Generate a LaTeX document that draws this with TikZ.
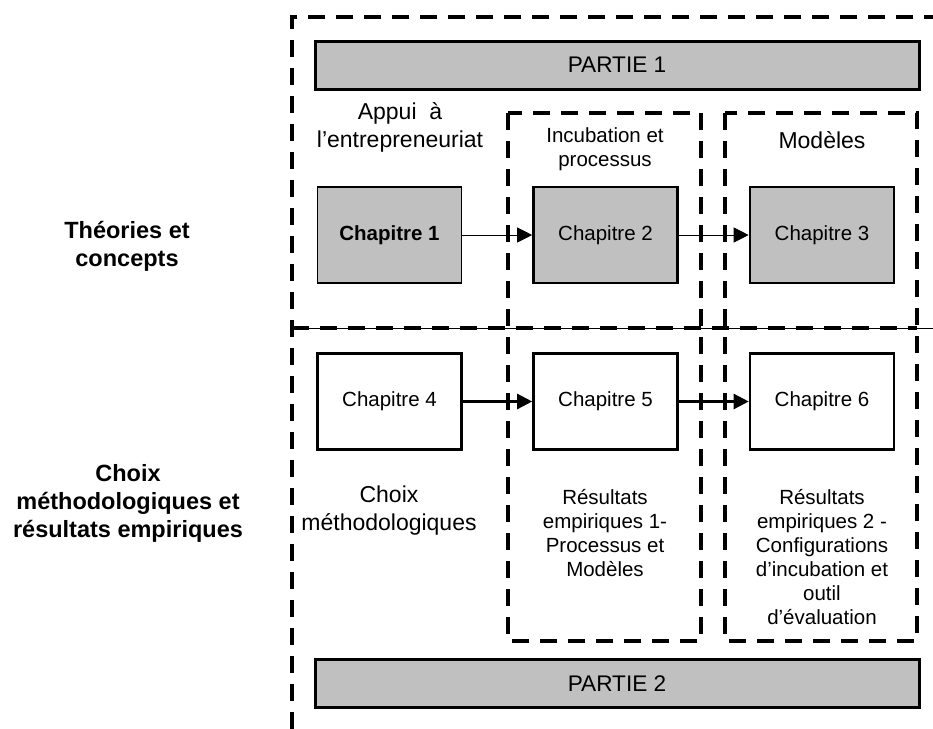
\documentclass[tikz,border=0pt]{standalone}
\usepackage{fontspec}
\setmainfont{Liberation Sans}
\usepackage{tikz}
\usetikzlibrary{arrows.meta,positioning}
\definecolor{partgray}{RGB}{192,192,192}

\begin{document}
\begin{tikzpicture}[
				x = .5pt, y = -.5pt,
				dashframe/.style = {line width = 1.8pt, dash pattern = on 8.5pt off 5.5pt},
				chap/.style = {draw, line width = 1.3pt, minimum width = 72pt, minimum height = 48pt,
					inner sep = 0pt, font = \fontsize{10.25}{12}\selectfont},
				part/.style = {draw, fill = partgray, line width = 1.5pt, minimum width = 302pt,
					minimum height = 24pt, font = \fontsize{11.3}{13}\selectfont},
				lbl/.style = {align = center, inner sep = 0pt, font = \fontsize{10.25}{12}\selectfont},
				biglbl/.style = {align = center, inner sep = 0pt, font = \fontsize{11.5}{14}\selectfont},
				side/.style = {align = center, inner sep = 0pt, font = \bfseries\fontsize{11.75}{14}\selectfont},
				link/.style = {-{Triangle[length = 7.5pt, width = 7.5pt]}}
			]
			\useasboundingbox (0,0) rectangle (933,729);

			% frames
			\draw[dashframe] (292,729) -- (292,17) -- (933,17);
			\draw[dashframe] (508,113) rectangle (701,641);
			\draw[dashframe] (725,113) rectangle (917,641);
			\draw[line width = .5pt] (292,328) -- (933,328);
			\draw[dashframe] (292,328) -- (917,328);

			\node[part] (p1) at (617,65) {PARTIE 1};
			\node[part] (p2) at (617,683.5) {PARTIE 2};

			\node[chap, fill = partgray, line width = .6pt, font = \bfseries\fontsize{10.25}{12}\selectfont] (c1) at (389.5,235) {Chapitre 1};
			\node[chap, fill = partgray] (c2) at (605.5,235) {Chapitre 2};
			\node[chap, fill = partgray] (c3) at (822,235) {Chapitre 3};
			\node[chap] (c4) at (389.5,401.5) {Chapitre 4};
			\node[chap] (c5) at (605.5,401.5) {Chapitre 5};
			\node[chap] (c6) at (822,401.5) {Chapitre 6};

			\draw[link, line width = .5pt] (c1) -- (c2);
			\draw[link, line width = .5pt] (c2) -- (c3);
			\draw[link, line width = 1.2pt] (c4) -- (c5);
			\draw[link, line width = 1.2pt] (c5) -- (c6);

			\node[side] (theo) at (127,246) {Théories et\\concepts};
			\node[side] (meth) at (128,503) {Choix\\méthodologiques et\\résultats empiriques};

			\node[biglbl] (appui) at (400,127) {Appui~ à\\l’entrepreneuriat};
			\node[lbl] (incub) at (605,149) {Incubation et\\processus};
			\node[biglbl] (mod) at (822,140) {Modèles};
			\node[biglbl] (choix) at (389,511) {Choix\\méthodologiques};
			\node[lbl] (res1) at (605,533) {Résultats\\empiriques 1-\\Processus et\\Modèles};
			\node[lbl] (res2) at (822,557) {Résultats\\empiriques 2 -\\Configurations\\d’incubation et\\outil\\d’évaluation};

			\end{tikzpicture}
\end{document}
